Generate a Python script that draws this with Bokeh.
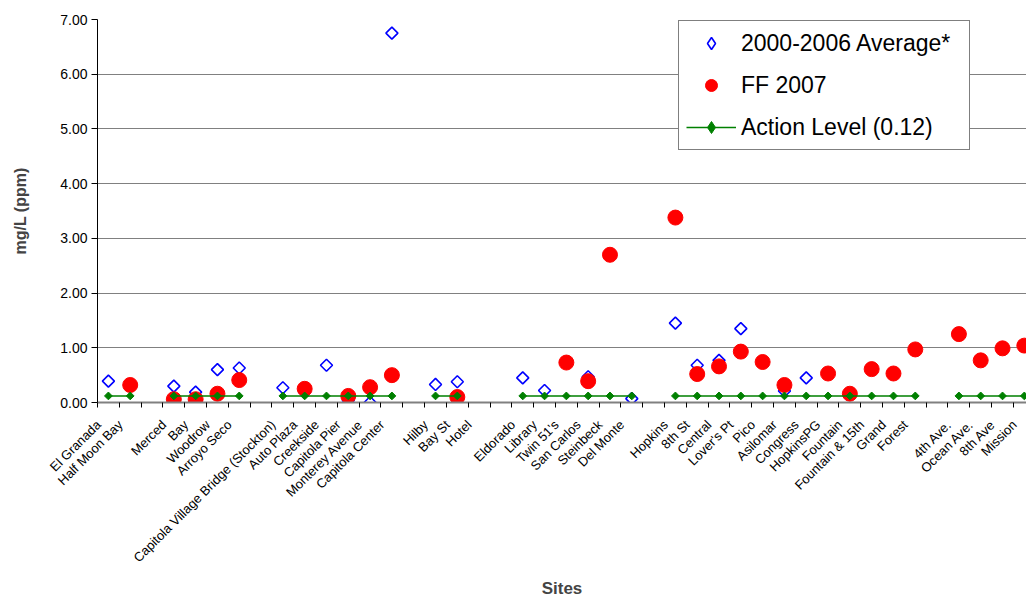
import math
from bokeh.plotting import figure
from bokeh.models import (ColumnDataSource, Range1d, FixedTicker, NumeralTickFormatter,
                          Legend, LegendItem)
from bokeh.embed import file_html
from bokeh.resources import INLINE

nan = float("nan")

sites = ["El Granada", "Half Moon Bay", "", "Merced", "Bay", "Woodrow", "Arroyo Seco", "",
         "Capitola Village Bridge (Stockton)", "Auto Plaza", "Creekside", "Capitola Pier",
         "Monterey Avenue", "Capitola Center", "", "Hilby", "Bay St", "Hotel", "",
         "Eldorado", "Library", "Twin 51's", "San Carlos", "Steinbeck", "Del Monte", "",
         "Hopkins", "8th St", "Central", "Lover's Pt", "Pico", "Asilomar", "Congress",
         "HopkinsPG", "Fountain", "Fountain & 15th", "Grand", "Forest", "",
         "4th Ave.", "Ocean Ave.", "8th Ave", "Mission"]

avg_2000_2006 = [0.39, nan, nan, 0.30, 0.19, 0.60, 0.63, nan,
                 0.27, 0.19, 0.68, 0.04, 0.00, 6.75, nan, 0.33, 0.38, nan, nan,
                 0.45, 0.22, nan, 0.47, nan, 0.07, nan,
                 1.45, 0.68, 0.77, 1.35, nan, 0.21, 0.45,
                 nan, nan, nan, nan, nan, nan,
                 nan, nan, nan, nan]

ff_2007 = [nan, 0.32, nan, 0.06, 0.06, 0.16, 0.41, nan,
           nan, 0.25, nan, 0.12, 0.28, 0.50, nan, nan, 0.10, nan, nan,
           nan, nan, 0.73, 0.39, 2.70, nan, nan,
           3.38, 0.52, 0.66, 0.93, 0.74, 0.32, nan,
           0.53, 0.16, 0.61, 0.53, 0.97, nan,
           1.25, 0.77, 0.99, 1.04]

action_level = [0.12, 0.12, nan, 0.12, 0.12, 0.12, 0.12, nan,
                0.12, 0.12, 0.12, 0.12, 0.12, 0.12, nan, 0.12, 0.12, nan, nan,
                0.12, 0.12, 0.12, 0.12, 0.12, 0.12, nan,
                0.12, 0.12, 0.12, 0.12, 0.12, 0.12, 0.12,
                0.12, 0.12, 0.12, 0.12, 0.12, nan,
                0.12, 0.12, 0.12, 0.12]

y_ticks = [0, 1, 2, 3, 4, 5, 6, 7]

idx = list(range(len(sites)))
src = ColumnDataSource(dict(x=idx, avg=avg_2000_2006, ff=ff_2007, act=action_level))
# legend-only proxies (nothing is drawn in the plot area)
proxy = ColumnDataSource(dict(x=[nan], y=[nan]))

FONT = "Liberation Sans"
LABEL_SHIFT = 0.45  # rotated labels end slightly left of the category centre

p = figure(width=1026, height=601, output_backend="svg", toolbar_location=None,
           x_range=Range1d(-0.5, 42.1), y_range=Range1d(0, 7),
           min_border_left=97, min_border_right=0, min_border_top=19, min_border_bottom=197)
p.outline_line_color = None
p.background_fill_color = "white"
p.border_fill_color = "white"

# Grid
p.xgrid.grid_line_color = None
p.ygrid.grid_line_color = "#808080"
p.ygrid.grid_line_width = 1
p.yaxis.ticker = FixedTicker(ticks=y_ticks)

# Y axis
p.yaxis.formatter = NumeralTickFormatter(format="0.00")
p.yaxis.axis_label = "mg/L (ppm)"
p.yaxis.axis_label_text_font = FONT
p.yaxis.axis_label_text_font_style = "bold"
p.yaxis.axis_label_text_font_size = "16px"
p.yaxis.axis_label_standoff = 28
p.yaxis.major_label_text_font = FONT
p.yaxis.major_label_text_font_size = "14px"
p.yaxis.major_label_text_color = "#000000"
p.yaxis.major_label_standoff = 4
p.yaxis.axis_line_color = "#000000"
p.yaxis.major_tick_line_color = "#000000"
p.yaxis.major_tick_out = 6
p.yaxis.major_tick_in = 0
p.yaxis.minor_tick_line_color = None

# X axis
label_idx = [i for i, s in enumerate(sites) if s]
label_ticks = [round(i - LABEL_SHIFT, 2) for i in label_idx]
p.xaxis.ticker = FixedTicker(ticks=label_ticks,
                             minor_ticks=[i - 0.5 for i in range(len(sites) + 1)])
p.xaxis.major_label_overrides = {t: sites[i] for t, i in zip(label_ticks, label_idx)}
p.xaxis.major_label_orientation = math.pi / 4
p.xaxis.major_label_text_font = FONT
p.xaxis.major_label_text_font_size = "13px"
p.xaxis.major_label_text_color = "#000000"
p.xaxis.major_label_standoff = 15
p.xaxis.major_tick_in = 0
p.xaxis.major_tick_out = 0
p.xaxis.minor_tick_in = 0
p.xaxis.minor_tick_out = 5
p.xaxis.minor_tick_line_color = "#000000"
p.xaxis.axis_line_color = "#808080"
p.xaxis.axis_line_width = 2
p.xaxis.axis_label = "Sites"
p.xaxis.axis_label_text_font = FONT
p.xaxis.axis_label_text_font_style = "bold"
p.xaxis.axis_label_text_font_size = "17px"
p.xaxis.axis_label_standoff = 6

# Data
r_avg = p.scatter("x", "avg", source=src, marker="square", angle=math.pi / 4, size=8.5,
                  line_color="#0000FF", line_width=1.6, fill_color=None)
r_ff = p.scatter("x", "ff", source=src, marker="circle", size=15,
                 line_color="#FF0000", fill_color="#FF0000")
r_act_line = p.line("x", "act", source=src, line_color="#008000", line_width=1.5)
r_act_pts = p.scatter("x", "act", source=src, marker="square", angle=math.pi / 4, size=5.5,
                      line_color="#008000", fill_color="#008000")

leg_avg = p.scatter("x", "y", source=proxy, marker="diamond", line_color="#0000FF",
                    line_width=1.6, fill_color=None)
leg_act = p.scatter("x", "y", source=proxy, marker="diamond", line_color="#008000",
                    fill_color="#008000")

legend = Legend(items=[
    LegendItem(label="2000-2006 Average*", renderers=[leg_avg]),
    LegendItem(label="FF 2007", renderers=[r_ff]),
    LegendItem(label="Action Level (0.12)", renderers=[r_act_line, leg_act]),
], location=(581, 252))
legend.label_text_font = FONT
legend.label_text_font_size = "23px"
legend.label_text_color = "#000000"
legend.glyph_width = 50
legend.glyph_height = 30
legend.label_height = 30
legend.label_width = 221
legend.spacing = 12
legend.padding = 7
legend.margin = 0
legend.label_standoff = 5
legend.border_line_color = "#000000"
legend.border_line_width = 1
legend.background_fill_color = "white"
legend.background_fill_alpha = 1
p.add_layout(legend)

open("out.html", "w").write(file_html(p, INLINE))
